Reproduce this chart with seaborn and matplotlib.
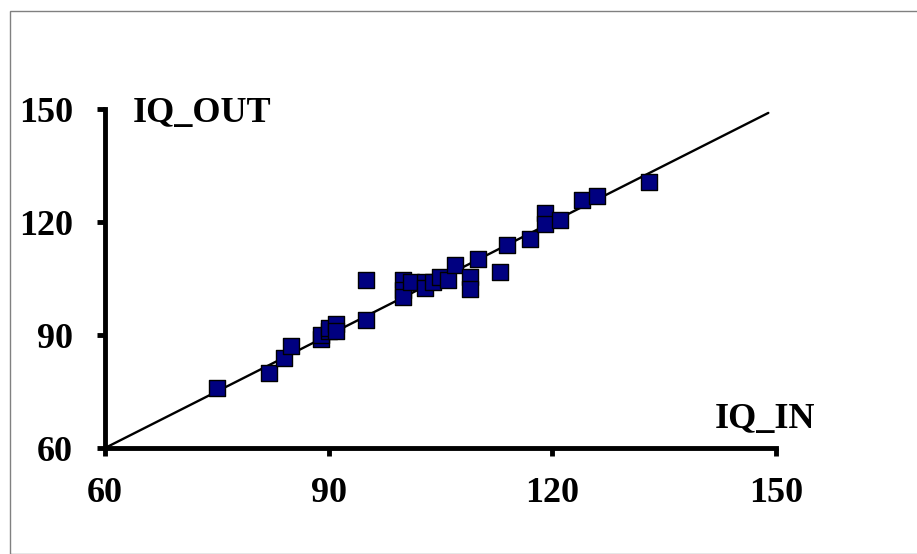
import matplotlib
matplotlib.use("Agg")
import matplotlib.pyplot as plt
import numpy as np
import pandas as pd
import seaborn as sns
from matplotlib.patches import Rectangle

# ========== DONNEES ==========
iq_in = [75, 82, 84, 85, 89, 89, 90, 90, 91, 91, 95, 95, 100, 100, 100, 101, 103, 103,
         104, 105, 106, 107, 109, 109, 110, 113, 114, 117, 119, 119, 121, 124, 126, 133]
iq_out = [76, 80, 84, 87, 89, 90, 91, 92, 93, 91, 94, 104.5, 104.5, 102, 100, 104, 104, 102.5,
          104, 105.5, 104.5, 108.5, 105.5, 102.3, 110.3, 106.8, 114, 115.6, 122.3, 119.4, 120.5, 126, 126.8, 130.6]
ligne_x = [60, 149]
ligne_y = [60, 149]
ticks = [60, 90, 120, 150]

df = pd.DataFrame({"IQ_IN": iq_in, "IQ_OUT": iq_out})

sns.set_style("white", {"xtick.bottom": True, "ytick.left": True})
plt.rcParams["font.family"] = ["Liberation Serif", "DejaVu Serif"]
plt.rcParams["font.weight"] = "bold"
plt.rcParams["text.color"] = "black"
plt.rcParams["xtick.color"] = "black"
plt.rcParams["ytick.color"] = "black"

fig = plt.figure(figsize=(9.17, 5.54), dpi=100)
ax = fig.add_axes([0.1145, 0.1913, 0.7315, 0.6117])

ax.plot(ligne_x, ligne_y, color="black", linewidth=1.7, zorder=1)
sns.scatterplot(data=df, x="IQ_IN", y="IQ_OUT", marker="s", s=120, color="#000080",
                edgecolor="black", linewidth=1.0, ax=ax, zorder=2)

ax.set_xlim(60, 150)
ax.set_ylim(60, 150)
ax.set_xticks(ticks)
ax.set_yticks(ticks)
ax.set_xlabel("")
ax.set_ylabel("")
for s in ["top", "right"]:
    ax.spines[s].set_visible(False)
for s in ["left", "bottom"]:
    ax.spines[s].set_linewidth(3.5)
    ax.spines[s].set_color("black")
    ax.spines[s].set_capstyle("projecting")
ax.tick_params(axis="both", direction="out", length=6, width=3.5, labelsize=26,
               colors="black")
ax.tick_params(axis="y", pad=17)
ax.tick_params(axis="x", pad=15)
for lab in ax.get_xticklabels() + ax.get_yticklabels():
    lab.set_fontweight("bold")

ax.text(0.042, 0.962, "IQ_OUT", transform=ax.transAxes, fontsize=26, fontweight="bold",
        ha="left", va="baseline")
ax.text(0.909, 0.059, "IQ_IN", transform=ax.transAxes, fontsize=26, fontweight="bold",
        ha="left", va="baseline")

# cadre autour de la figure
fig.patches.append(Rectangle((10 / 917, 0), 1, 1 - 11 / 554, transform=fig.transFigure,
                             fill=False, edgecolor="#808080", linewidth=1.0))

plt.savefig("out.png", dpi=100)
